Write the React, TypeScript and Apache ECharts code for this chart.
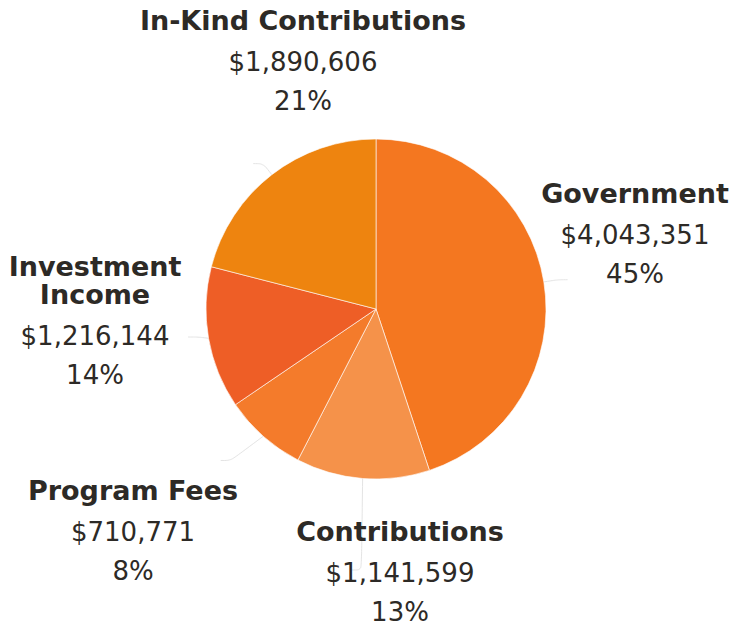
import React, { useEffect, useRef } from "react";
import * as echarts from "echarts";

const categories = ["Government", "Contributions", "Program Fees", "Investment Income", "In-Kind Contributions"];
const displayNames = ["Government", "Contributions", "Program Fees", "Investment\nIncome", "In-Kind Contributions"];
const values = [4043351, 1141599, 710771, 1216144, 1890606];
const colors = ["#F47720", "#F5924A", "#F47B2B", "#EE5E26", "#EE840F"];

// label anchor positions (layout only)
const labelPos: [number, number][] = [
  [635, 232],
  [400, 570],
  [133, 529],
  [95, 319],
  [303, 59],
];

const total = values.reduce((a, b) => a + b, 0);

export default function App() {
  const ref = useRef<HTMLDivElement>(null);
  useEffect(() => {
    if (!ref.current) return;
    const chart = echarts.init(ref.current, null, { renderer: "svg" });
    chart.setOption({
      animation: false,
      series: [
        {
          type: "pie",
          center: [376, 309],
          radius: 170,
          startAngle: 90,
          clockwise: true,
          data: categories.map((c, i) => ({
            name: c,
            value: values[i],
            itemStyle: { color: colors[i] },
          })),
          itemStyle: { borderColor: "rgba(255,255,255,0.6)", borderWidth: 1 },
          label: {
            show: true,
            position: "outside",
            overflow: "none",
            formatter: (p: any) => {
              const i = p.dataIndex;
              const pct = Math.round((values[i] / total) * 100);
              const nm = displayNames[i].split("\n").map((s) => `{n|${s}}`).join("\n");
              return `${nm}\n{v|$${values[i].toLocaleString("en-US")}}\n{p|${pct}%}`;
            },
            rich: {
              n: { fontFamily: "DejaVu Sans", fontWeight: "bold", fontSize: 27, color: "#2d2a26", lineHeight: 28, align: "center" },
              v: { fontFamily: "DejaVu Sans", fontSize: 26, color: "#2d2a26", lineHeight: 56, align: "center" },
              p: { fontFamily: "DejaVu Sans", fontSize: 26, color: "#2d2a26", lineHeight: 22, align: "center" },
            },
          },
          labelLine: {
            show: true,
            length: 14,
            length2: 10,
            smooth: true,
            lineStyle: { color: "#e4e4e4", width: 1 },
          },
          labelLayout: (params: any) => {
            const pos = labelPos[params.dataIndex];
            return {
              x: pos[0],
              y: pos[1],
              align: "center",
              verticalAlign: "middle",
              labelLinePoints: params.labelLinePoints,
            };
          },
        },
      ],
    });
    return () => chart.dispose();
  }, []);
  return <div ref={ref} style={{ position: "absolute", left: 0, top: 0, width: 734, height: 626 }} />;
}
